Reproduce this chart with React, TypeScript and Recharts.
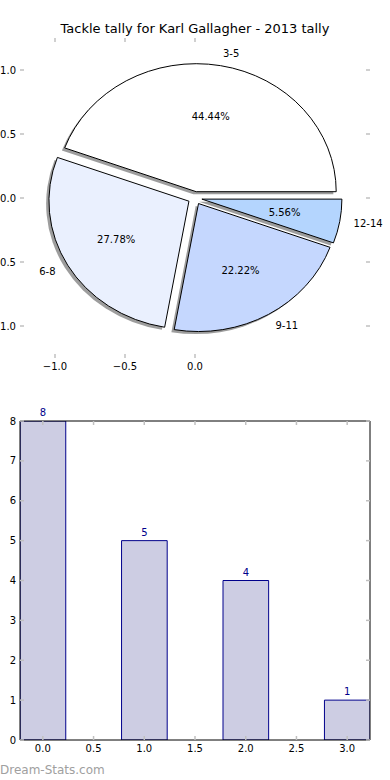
import React from 'react';
import { PieChart, Pie, ScatterChart, XAxis, YAxis, BarChart, Bar, LabelList } from 'recharts';

// ---- data ----
const categories = ['3-5', '6-8', '9-11', '12-14'];
const tallies = [8, 5, 4, 1];
const barPositions = [0, 1, 2, 3];
const pieColors = ['#ffffff', '#eaf0fe', '#c5d7fe', '#b4d5fe'];
const pieXTicks = [-1, -0.5, 0];
const pieYTicks = [-1, -0.5, 0, 0.5, 1];
const barXTicks = [0, 0.5, 1, 1.5, 2, 2.5, 3];
const barYTicks = [0, 1, 2, 3, 4, 5, 6, 7, 8];

const pieData = categories.map((name, i) => ({ name, value: tallies[i], fill: pieColors[i] }));
const barData = barPositions.map((x, i) => ({ x, value: tallies[i] }));

// ---- styling / layout ----
const FONT = '"DejaVu Sans", sans-serif';
const TICK_COLOR = '#c0c0c0';
const W = 390;
const PIE_H = 390;
const PIE_PLOT = { top: 38, right: 20, bottom: 32, left: 20 };
const PIE_MARGIN = { top: PIE_PLOT.top - 1, right: PIE_PLOT.right - 1, bottom: PIE_PLOT.bottom - 1, left: PIE_PLOT.left - 1 };
const PIE_DOMAIN: [number, number] = [-1.25, 1.25];
const PX_PER_UNIT_X = (W - PIE_PLOT.left - PIE_PLOT.right) / (PIE_DOMAIN[1] - PIE_DOMAIN[0]);
const PX_PER_UNIT_Y = (PIE_H - PIE_PLOT.top - PIE_PLOT.bottom) / (PIE_DOMAIN[1] - PIE_DOMAIN[0]);
const Y_RATIO = PX_PER_UNIT_Y / PX_PER_UNIT_X;
const PIE_CX = PIE_PLOT.left + (0 - PIE_DOMAIN[0]) * PX_PER_UNIT_X;
const PIE_CY = PIE_PLOT.top + (PIE_DOMAIN[1] - 0) * PX_PER_UNIT_Y;
const EXPLODE = 0.05;
const SHADOW = 0.02;
const RAD = Math.PI / 180;

const BAR_H = 390;
const BAR_PLOT = { top: 31, right: 20, bottom: 40, left: 20 };
const BAR_MARGIN = { top: BAR_PLOT.top - 1, right: BAR_PLOT.right - 1, bottom: BAR_PLOT.bottom - 1, left: BAR_PLOT.left - 1 };
const BAR_DOMAIN: [number, number] = [-0.225, 3.225];
const BAR_WIDTH_UNITS = 0.45;
const BAR_SIZE = ((W - BAR_PLOT.left - BAR_PLOT.right) / (BAR_DOMAIN[1] - BAR_DOMAIN[0])) * BAR_WIDTH_UNITS;

function wedgePath(p: any, dx: number, dy: number) {
  const { cx, cy, outerRadius, startAngle, endAngle } = p;
  const mid = (startAngle + endAngle) / 2;
  const rx = outerRadius;
  const ry = outerRadius * Y_RATIO;
  const ox = cx + EXPLODE * rx * Math.cos(mid * RAD) + dx * rx;
  const oy = cy - EXPLODE * ry * Math.sin(mid * RAD) + dy * ry;
  const x0 = ox + rx * Math.cos(startAngle * RAD);
  const y0 = oy - ry * Math.sin(startAngle * RAD);
  const x1 = ox + rx * Math.cos(endAngle * RAD);
  const y1 = oy - ry * Math.sin(endAngle * RAD);
  const large = Math.abs(endAngle - startAngle) > 180 ? 1 : 0;
  return `M${ox},${oy} L${x0},${y0} A${rx},${ry} 0 ${large} 0 ${x1},${y1} Z`;
}

const WedgeShape = (p: any) => (
  <path d={wedgePath(p, 0, 0)} fill={p.payload?.fill ?? p.fill} stroke="#000" strokeWidth={1} strokeLinejoin="miter" />
);

const ShadowShape = (p: any) => (
  <path d={wedgePath(p, -SHADOW, SHADOW)} fill="#4d4d4d" fillOpacity={0.55} stroke="none" />
);

const renderPieLabels = (p: any) => {
  const { cx, cy, midAngle, outerRadius, percent, name, index } = p;
  const rx = outerRadius;
  const ry = outerRadius * Y_RATIO;
  const c = Math.cos(midAngle * RAD);
  const s = Math.sin(midAngle * RAD);
  const lxu = EXPLODE * c + 1.1 * c;
  const lyu = EXPLODE * s + 1.1 * s;
  const pxu = EXPLODE * c + 0.6 * c;
  const pyu = EXPLODE * s + 0.6 * s;
  return (
    <g key={`lbl-${index}`}>
      <text x={cx + rx * lxu} y={cy - ry * lyu} textAnchor={lxu > 0 ? 'start' : 'end'} dominantBaseline="central"
        fontFamily={FONT} fontSize={10} fill="#000">{name}</text>
      <text x={cx + rx * pxu} y={cy - ry * pyu} textAnchor="middle" dominantBaseline="central"
        fontFamily={FONT} fontSize={10} fill="#000">{(percent * 100).toFixed(2)}%</text>
    </g>
  );
};

const makeTick = (side: 'left' | 'right' | 'top' | 'bottom', withLabel: boolean, fmt: (v: number) => string) =>
  (props: any) => {
    const { x, y, payload } = props;
    const L = 4;
    let line;
    if (side === 'left') line = <line x1={x} x2={x + L} y1={y} y2={y} />;
    else if (side === 'right') line = <line x1={x - L} x2={x} y1={y} y2={y} />;
    else if (side === 'top') line = <line x1={x} x2={x} y1={y} y2={y + L} />;
    else line = <line x1={x} x2={x} y1={y - L} y2={y} />;
    let label = null;
    if (withLabel) {
      const txt = fmt(payload.value);
      if (side === 'left')
        label = <text x={x - 4} y={y} textAnchor="end" dominantBaseline="central" fontFamily={FONT} fontSize={10} fill="#000">{txt}</text>;
      else if (side === 'bottom')
        label = <text x={x} y={y + 8} textAnchor="middle" dominantBaseline="central" fontFamily={FONT} fontSize={10} fill="#000">{txt}</text>;
    }
    return (
      <g>
        <g stroke={TICK_COLOR} strokeWidth={1.5}>{line}</g>
        {label}
      </g>
    );
  };

const fmtSigned = (v: number) => (v < 0 ? '\u2212' + Math.abs(v).toFixed(1) : v.toFixed(1));
const fmtInt = (v: number) => String(v);

export default function App() {
  return (
    <div style={{ position: 'absolute', left: 0, top: 0, width: W, height: 780, background: '#fff', fontFamily: FONT }}>
      {/* pie axes */}
      <div style={{ position: 'absolute', left: 0, top: 0 }}>
        <ScatterChart width={W} height={PIE_H} margin={PIE_MARGIN}>
          <XAxis xAxisId="b" type="number" dataKey="x" orientation="bottom" domain={PIE_DOMAIN} ticks={pieXTicks}
            allowDataOverflow interval={0} height={1} axisLine={false} tickLine={false} tickSize={0} tickMargin={0}
            tick={makeTick('bottom', true, fmtSigned)} />
          <XAxis xAxisId="t" type="number" dataKey="x" orientation="top" domain={PIE_DOMAIN} ticks={pieXTicks}
            allowDataOverflow interval={0} height={1} axisLine={false} tickLine={false} tickSize={0} tickMargin={0}
            tick={makeTick('top', false, fmtSigned)} />
          <YAxis yAxisId="l" type="number" dataKey="y" orientation="left" domain={PIE_DOMAIN} ticks={pieYTicks}
            allowDataOverflow interval={0} width={1} axisLine={false} tickLine={false} tickSize={0} tickMargin={0}
            tick={makeTick('left', true, fmtSigned)} />
          <YAxis yAxisId="r" type="number" dataKey="y" orientation="right" domain={PIE_DOMAIN} ticks={pieYTicks}
            allowDataOverflow interval={0} width={1} axisLine={false} tickLine={false} tickSize={0} tickMargin={0}
            tick={makeTick('right', false, fmtSigned)} />
        </ScatterChart>
      </div>
      {/* pie */}
      <div style={{ position: 'absolute', left: 0, top: 0 }}>
        <PieChart width={W} height={PIE_H} margin={{ top: 0, right: 0, bottom: 0, left: 0 }}>
          <Pie data={pieData} dataKey="value" nameKey="name" cx={PIE_CX} cy={PIE_CY} innerRadius={0}
            outerRadius={PX_PER_UNIT_X} startAngle={0} endAngle={360} isAnimationActive={false}
            shape={ShadowShape} activeShape={ShadowShape} labelLine={false} label={false} stroke="none" />
          <Pie data={pieData} dataKey="value" nameKey="name" cx={PIE_CX} cy={PIE_CY} innerRadius={0}
            outerRadius={PX_PER_UNIT_X} startAngle={0} endAngle={360} isAnimationActive={false}
            shape={WedgeShape} activeShape={WedgeShape} labelLine={false} label={renderPieLabels} />
        </PieChart>
      </div>
      <div style={{ position: 'absolute', left: 0, top: 21, width: W, textAlign: 'center', fontSize: 13, color: '#000', lineHeight: 'normal' }}>
        Tackle tally for Karl Gallagher - 2013 tally
      </div>
      {/* bar chart */}
      <div style={{ position: 'absolute', left: 0, top: PIE_H }}>
        <BarChart width={W} height={BAR_H} data={barData} margin={BAR_MARGIN}>
          <Bar xAxisId="b" yAxisId="l" dataKey="value" barSize={BAR_SIZE} fill="#cdcde3" stroke="#00008b"
            strokeWidth={1} isAnimationActive={false}>
            <LabelList dataKey="value" position="top" offset={5} fill="#00008b" fontSize={10} fontFamily={FONT} />
          </Bar>
          <XAxis xAxisId="b" type="number" dataKey="x" orientation="bottom" domain={BAR_DOMAIN} ticks={barXTicks}
            allowDataOverflow interval={0} height={1} axisLine={{ stroke: '#000', strokeWidth: 1 }} tickLine={false}
            tickSize={0} tickMargin={0} tick={makeTick('bottom', true, (v) => v.toFixed(1))} />
          <XAxis xAxisId="t" type="number" dataKey="x" orientation="top" domain={BAR_DOMAIN} ticks={barXTicks}
            allowDataOverflow interval={0} height={1} axisLine={{ stroke: '#000', strokeWidth: 1 }} tickLine={false}
            tickSize={0} tickMargin={0} tick={makeTick('top', false, (v) => v.toFixed(1))} />
          <YAxis yAxisId="l" type="number" orientation="left" domain={[0, 8]} ticks={barYTicks}
            allowDataOverflow interval={0} width={1} axisLine={{ stroke: '#000', strokeWidth: 1 }} tickLine={false}
            tickSize={0} tickMargin={0} tick={makeTick('left', true, fmtInt)} />
          <YAxis yAxisId="r" type="number" orientation="right" domain={[0, 8]} ticks={barYTicks}
            allowDataOverflow interval={0} width={1} axisLine={{ stroke: '#000', strokeWidth: 1 }} tickLine={false}
            tickSize={0} tickMargin={0} tick={makeTick('right', false, fmtInt)} />
        </BarChart>
      </div>
      <div style={{ position: 'absolute', left: 0, top: 763, fontSize: 12, color: '#a0a0a0', lineHeight: 'normal', fontFamily: FONT }}>
        Dream-Stats.com
      </div>
    </div>
  );
}
